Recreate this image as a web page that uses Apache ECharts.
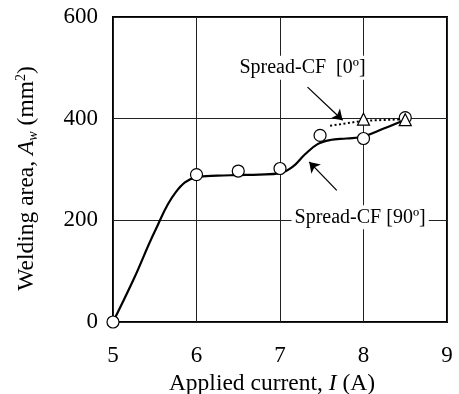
<!DOCTYPE html>
<html><head><meta charset="utf-8">
<script src="https://cdn.jsdelivr.net/npm/echarts@6/dist/echarts.min.js"></script>
<style>html,body{margin:0;padding:0;background:#fff}#c{width:459px;height:394px}</style>
</head><body><div id="c"></div>
<script>
const xTicks = [5, 6, 7, 8, 9];
const yTicks = [0, 200, 400, 600];
// fitted curve for Spread-CF [90º]
const curveX = [5, 5.25, 5.5, 5.75, 6, 6.25, 6.5, 6.75, 7, 7.15, 7.3, 7.45, 7.6, 7.8, 8, 8.25, 8.5];
const curveY = [0, 85, 178, 255, 285, 288, 289, 290, 293, 305, 330, 350, 358, 361, 365, 381, 398];
// measured points Spread-CF [90º]
const circX = [5, 6, 6.5, 7, 7.48, 8, 8.5];
const circY = [0, 290, 297, 302, 367, 361, 402];
// Spread-CF [0º]
const dotX = [7.6, 8, 8.5];
const dotY = [386, 396, 399];
const triX = [8, 8.5];
const triY = [399, 398];
const labels = ['Spread-CF  [0º]', 'Spread-CF [90º]'];
const labelX = [7.27, 7.96];
const labelY = [500, 206];
const arrowFrom = [[7.33, 462], [7.68, 259]];
const arrowTo = [[7.75, 397], [7.35, 315]];

const FONT = '"Liberation Serif","Times New Roman",serif';
const zip = (a, b) => a.map((v, i) => [v, b[i]]);
const chart = echarts.init(document.getElementById('c'), null, {renderer: 'canvas'});
chart.setOption({
  animation: false,
  grid: {left: 113, right: 12, top: 17, bottom: 72, show: true, borderColor: '#000', borderWidth: 2,
    backgroundColor: 'transparent', containLabel: false, outerBoundsMode: 'none'},
  xAxis: {
    type: 'value', min: 5, max: 9, interval: 1,
    name: '{n|Applied current, }{i|I}{n| (A)}', nameLocation: 'middle', nameGap: 47,
    nameTextStyle: {padding: [0, 16, 0, 0], rich: {n: {fontFamily: FONT, fontSize: 23.5, color: '#000'}, i: {fontFamily: FONT, fontSize: 23.5, fontStyle: 'italic', color: '#000'}}},
    axisLine: {show: false}, axisTick: {show: false},
    axisLabel: {fontFamily: FONT, fontSize: 23, color: '#000', margin: 22, formatter: v => xTicks.includes(v) ? String(v) : ''},
    splitLine: {show: true, lineStyle: {color: '#222', width: 1}}
  },
  yAxis: {
    type: 'value', min: 0, max: 600, interval: 200,
    name: '{n|Welding area, }{i|A}{s|w}{n| (mm}{p|2}{n|)}', nameLocation: 'middle', nameGap: 73, nameRotate: 90,
    nameTextStyle: {padding: [0, 18, 0, 0], rich: {
      n: {fontFamily: FONT, fontSize: 23.5, color: '#000'},
      i: {fontFamily: FONT, fontSize: 23.5, fontStyle: 'italic', color: '#000'},
      s: {fontFamily: FONT, fontSize: 14, fontStyle: 'italic', color: '#000', padding: [12, 0, 0, 0]},
      p: {fontFamily: FONT, fontSize: 14, color: '#000', padding: [0, 0, 12, 0]}
    }},
    axisLine: {show: false}, axisTick: {show: false},
    axisLabel: {fontFamily: FONT, fontSize: 23, color: '#000', margin: 15, formatter: v => yTicks.includes(v) ? String(v) : ''},
    splitLine: {show: true, lineStyle: {color: '#222', width: 1}}
  },
  series: [
    {type: 'line', data: zip(curveX, curveY), smooth: 0.4, showSymbol: false, lineStyle: {color: '#000', width: 2.2}, z: 3},
    {type: 'line', data: zip(dotX, dotY), showSymbol: false, lineStyle: {color: '#000', width: 2, type: [2, 2.5]}, z: 3},
    {type: 'scatter', data: zip(circX, circY), symbol: 'circle', symbolSize: 12,
      itemStyle: {color: '#fff', borderColor: '#000', borderWidth: 1.2, opacity: 1}, z: 4},
    {type: 'scatter', data: zip(triX, triY), symbol: 'triangle', symbolSize: 12,
      itemStyle: {color: '#fff', borderColor: '#000', borderWidth: 1.2, opacity: 1}, z: 5},
    {type: 'scatter', data: zip(labelX, labelY).map((p, i) => ({value: p, name: labels[i]})), symbolSize: 0, z: 6,
      itemStyle: {color: '#000', opacity: 1},
      label: {show: true, position: 'inside', formatter: p => p.name, fontFamily: FONT, fontSize: 20, color: '#000', backgroundColor: '#fff', padding: [2, 3]},
      markLine: {silent: true, symbol: ['none', 'arrow'], symbolSize: 10,
        lineStyle: {color: '#000', width: 1.3, type: 'solid', opacity: 1}, label: {show: false},
        data: arrowFrom.map((f, i) => [{coord: f}, {coord: arrowTo[i]}])}
    }
  ]
});
</script></body></html>
